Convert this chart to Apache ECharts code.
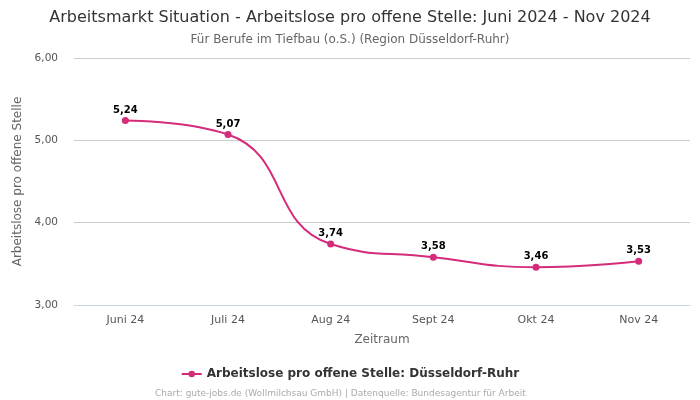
<!DOCTYPE html>
<html><head><meta charset="utf-8">
<script src="https://cdn.jsdelivr.net/npm/echarts@6/dist/echarts.min.js"></script>
<style>html,body{margin:0;padding:0;background:#fff}#c{width:700px;height:400px}</style>
</head><body><div id="c"></div>
<script>
const categories = ['Juni 24','Juli 24','Aug 24','Sept 24','Okt 24','Nov 24'];
const values = [5.24, 5.07, 3.74, 3.58, 3.46, 3.53];
const seriesName = 'Arbeitslose pro offene Stelle: Düsseldorf-Ruhr';
const font = 'DejaVu Sans';
const fmt = v => v.toFixed(2).replace('.', ',');
const chart = echarts.init(document.getElementById('c'));
chart.setOption({
  animation: false,
  textStyle: {fontFamily: font},
  title: [
    {text: 'Arbeitsmarkt Situation - Arbeitslose pro offene Stelle: Juni 2024 - Nov 2024', left: 'center', top: 5,
     textStyle: {fontFamily: font, fontSize: 16, fontWeight: 'normal', color: '#333'}},
    {text: 'Für Berufe im Tiefbau (o.S.) (Region Düsseldorf-Ruhr)', left: 'center', top: 29,
     textStyle: {fontFamily: font, fontSize: 12, fontWeight: 'normal', color: '#666'}},
    {text: 'Chart: gute-jobs.de (Wollmilchsau GmbH) | Datenquelle: Bundesagentur für Arbeit', left: 150, top: 384,
     textStyle: {fontFamily: font, fontSize: 9, fontWeight: 'normal', color: '#aaa'}}
  ],
  legend: {
    bottom: 15, left: 'center', itemWidth: 20, itemHeight: 8,
    textStyle: {fontFamily: font, fontSize: 12, fontWeight: 'bold', color: '#333'},
    data: [seriesName]
  },
  grid: {left: 74, right: 10, top: 58, bottom: 95},
  xAxis: {
    type: 'category', data: categories, boundaryGap: true,
    name: 'Zeitraum', nameLocation: 'middle', nameGap: 29,
    nameTextStyle: {fontFamily: font, fontSize: 12, color: '#666'},
    axisLine: {show: true, lineStyle: {color: '#ccd6eb'}},
    axisTick: {show: false},
    axisLabel: {fontFamily: font, fontSize: 11, color: '#555', margin: 10}
  },
  yAxis: {
    type: 'value', min: 3, max: 6, interval: 1,
    name: 'Arbeitslose pro offene Stelle', nameLocation: 'middle', nameGap: 48,
    nameTextStyle: {fontFamily: font, fontSize: 12, color: '#666'},
    axisLine: {show: false},
    axisTick: {show: false},
    axisLabel: {fontFamily: font, fontSize: 10.5, color: '#555', margin: 16, formatter: v => fmt(v)},
    splitLine: {lineStyle: {color: '#ccc'}}
  },
  series: [{
    name: seriesName, type: 'line', data: values, smooth: 0.5,
    symbol: 'circle', symbolSize: 7,
    itemStyle: {color: '#d42b7a'},
    lineStyle: {color: '#d42b7a', width: 2},
    label: {show: true, position: 'top', distance: 2, fontFamily: font, fontSize: 10, fontWeight: 'bold', color: '#000', formatter: p => fmt(p.value)}
  }]
});
</script></body></html>
